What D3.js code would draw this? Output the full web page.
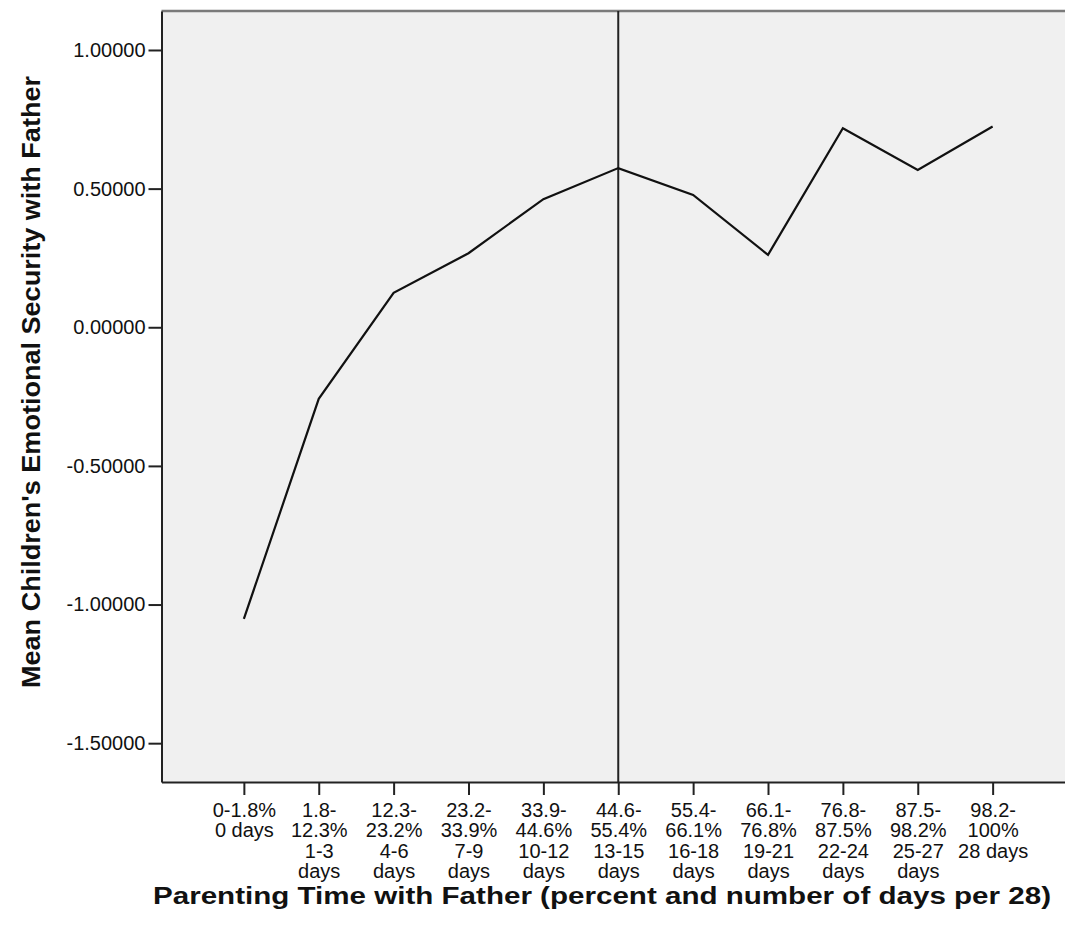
<!DOCTYPE html>
<html>
<head>
<meta charset="utf-8">
<script src="https://cdn.jsdelivr.net/npm/d3@7"></script>
<style>
  body { margin: 0; background: #fff; overflow: hidden; }
  text { font-family: "Liberation Sans", Arial, sans-serif; fill: #111; }
  .tick-label { font-size: 20px; }
  .axis-title { font-weight: bold; }
</style>
</head>
<body>
<div id="chart"></div>
<script>

// Categories (one per bin) and the label lines under each tick
let categories = ["0", "1-3", "4-6", "7-9", "10-12", "13-15", "16-18", "19-21", "22-24", "25-27", "28"];

let categoryLabels = [
  ["0-1.8%", "0 days"],
  ["1.8-", "12.3%", "1-3", "days"],
  ["12.3-", "23.2%", "4-6", "days"],
  ["23.2-", "33.9%", "7-9", "days"],
  ["33.9-", "44.6%", "10-12", "days"],
  ["44.6-", "55.4%", "13-15", "days"],
  ["55.4-", "66.1%", "16-18", "days"],
  ["66.1-", "76.8%", "19-21", "days"],
  ["76.8-", "87.5%", "22-24", "days"],
  ["87.5-", "98.2%", "25-27", "days"],
  ["98.2-", "100%", "28 days"]
];

// Mean emotional security per bin
let meanValues = [-1.052, -0.258, 0.124, 0.267, 0.462, 0.574, 0.477, 0.261, 0.718, 0.567, 0.724];

let yTicks = [1, 0.5, 0, -0.5, -1, -1.5];
let referenceCategory = "13-15";

let yTitle = "Mean Children's Emotional Security with Father";
let xTitle = "Parenting Time with Father (percent and number of days per 28)";

function drawChart(width, height, selector) {

  ///////////////////////////////////////////
  //// Dimensions, scales and generators ////
  ///////////////////////////////////////////

  let margin = { top: 11, left: 161.5, right: -10, bottom: 158 };
  let chartWidth = width - margin.left - margin.right;
  let chartHeight = height - margin.top - margin.bottom;

  let xPositionScale = d3.scalePoint()
    .domain(categories)
    .range([0, chartWidth])
    .padding(1.1);

  let yPositionScale = d3.scaleLinear()
    .domain([-1.64, 1.1406])
    .range([chartHeight, 0]);

  let line = d3.line()
    .x((d, i) => xPositionScale(categories[i]))
    .y(d => yPositionScale(d));

  let svg = d3.select(selector)
    .append("svg")
    .attr("width", width)
    .attr("height", height);

  let chart = svg.append("g")
    .attr("transform", "translate(" + margin.left + "," + margin.top + ")");

  // plot background
  chart.append("rect")
    .attr("width", chartWidth)
    .attr("height", chartHeight)
    .attr("fill", "#f0f0f0");

  chart.append("line")
    .attr("x1", 0)
    .attr("x2", chartWidth)
    .attr("y1", 0)
    .attr("y2", 0)
    .attr("stroke", "#7a7a7a")
    .attr("stroke-width", 2.5);

  // reference line
  chart.append("line")
    .attr("x1", xPositionScale(referenceCategory))
    .attr("x2", xPositionScale(referenceCategory))
    .attr("y1", 0)
    .attr("y2", chartHeight)
    .attr("stroke", "#222")
    .attr("stroke-width", 2);

  chart.append("path")
    .datum(meanValues)
    .attr("d", line)
    .attr("fill", "none")
    .attr("stroke", "#111")
    .attr("stroke-width", 2.2)
    .attr("stroke-linejoin", "miter");

  ///////////////
  //// Axes  ////
  ///////////////

  let yAxis = d3.axisLeft(yPositionScale)
    .tickValues(yTicks)
    .tickSizeInner(13)
    .tickSizeOuter(0)
    .tickPadding(3)
    .tickFormat(d => d3.format(".5f")(d).replace("\u2212", "-"));

  let yAxisG = chart.append("g")
    .attr("class", "axis y-axis")
    .call(yAxis);

  let xAxis = d3.axisBottom(xPositionScale)
    .tickSizeInner(13)
    .tickSizeOuter(0)
    .tickFormat("");

  let xAxisG = chart.append("g")
    .attr("class", "axis x-axis")
    .attr("transform", "translate(0," + chartHeight + ")")
    .call(xAxis);

  svg.selectAll(".axis path, .axis line")
    .attr("stroke", "#222")
    .attr("stroke-width", 2);

  yAxisG.selectAll(".tick text")
    .attr("class", "tick-label")
    .attr("font-size", null)
    .attr("font-family", null);

  // multi-line category labels
  xAxisG.selectAll(".tick")
    .each(function(d, i) {
      let label = d3.select(this).append("text")
        .attr("class", "tick-label")
        .attr("text-anchor", "middle")
        .attr("y", 35);

      label.selectAll("tspan")
        .data(categoryLabels[i])
        .join("tspan")
        .attr("x", 0)
        .attr("dy", (t, j) => j === 0 ? 0 : 20.3)
        .text(t => t);
    });

  // axis titles
  svg.append("text")
    .attr("class", "axis-title")
    .attr("text-anchor", "middle")
    .attr("font-size", 25)
    .attr("textLength", 612)
    .attr("lengthAdjust", "spacingAndGlyphs")
    .attr("transform", "translate(40,382) rotate(-90)")
    .text(yTitle);

  svg.append("text")
    .attr("class", "axis-title")
    .attr("text-anchor", "middle")
    .attr("font-size", 23)
    .attr("textLength", 898)
    .attr("lengthAdjust", "spacingAndGlyphs")
    .attr("x", 602)
    .attr("y", 904)
    .text(xTitle);
}

drawChart(1065, 940, "#chart");
</script>
</body>
</html>
